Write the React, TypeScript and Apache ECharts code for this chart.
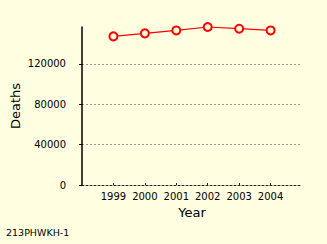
import React, { useEffect, useRef } from "react";
import * as echarts from "echarts";

const years = ["1998", "1999", "2000", "2001", "2002", "2003", "2004", "2005"];
const deaths: (number | null)[] = [null, 147100, 150100, 153000, 156400, 154700, 153000, null];
const yTicks = [0, 40000, 80000, 120000];
const footnote = "213PHWKH-1";

export default function App() {
  const ref = useRef<HTMLDivElement>(null);
  useEffect(() => {
    const chart = echarts.init(ref.current!, null, { renderer: "svg" });
    const font = "DejaVu Sans";
    const bg = "#fffee0";
    chart.setOption({
      animation: false,
      backgroundColor: bg,
      textStyle: { fontFamily: font },
      grid: { left: 82, right: 25, top: 27, bottom: 59, containLabel: false, outerBoundsMode: "none" },
      xAxis: {
        type: "category",
        data: years,
        boundaryGap: false,
        name: "Year",
        nameLocation: "middle",
        nameGap: 21,
        nameMoveOverlap: false,
        nameTextStyle: { fontSize: 13, color: "#000", fontFamily: font },
        axisLine: { lineStyle: { color: "#222", width: 1, type: [2, 2] } },
        axisTick: {
          inside: true,
          length: 2,
          interval: (i: number) => i > 0 && i < years.length - 1,
          lineStyle: { color: "#222" },
        },
        axisLabel: {
          fontSize: 10,
          color: "#000",
          margin: 6,
          fontFamily: font,
          interval: (i: number) => i > 0 && i < years.length - 1,
        },
        splitLine: { show: false },
      },
      yAxis: {
        type: "value",
        min: 0,
        max: 156400,
        name: "Deaths",
        nameLocation: "middle",
        nameGap: 60,
        nameMoveOverlap: false,
        nameTextStyle: { fontSize: 13, color: "#000", fontFamily: font },
        axisLine: { show: true, lineStyle: { color: "#000", width: 1.5 } },
        axisTick: { show: true, length: 3, customValues: yTicks, lineStyle: { color: "#000" } },
        axisLabel: {
          fontSize: 10,
          color: "#000",
          margin: 16,
          fontFamily: font,
          customValues: yTicks,
          formatter: (v: number) => String(v),
        },
        splitLine: {
          show: true,
          showMinLine: false,
          lineStyle: { color: "#999", type: [2, 2], width: 1 },
        },
      },
      series: [
        {
          type: "line",
          data: deaths,
          symbol: "circle",
          symbolSize: 8,
          clip: false,
          lineStyle: { color: "#ff0000", width: 1.2 },
          itemStyle: { color: bg, borderColor: "#ff0000", borderWidth: 2 },
        },
      ],
      graphic: [
        {
          type: "text",
          left: 6,
          top: 227,
          style: { text: footnote, font: `9.5px "${font}"`, fill: "#000" },
        },
      ],
    });
    return () => chart.dispose();
  }, []);
  return <div ref={ref} style={{ width: 327, height: 244, position: "absolute", left: 0, top: 0 }} />;
}
